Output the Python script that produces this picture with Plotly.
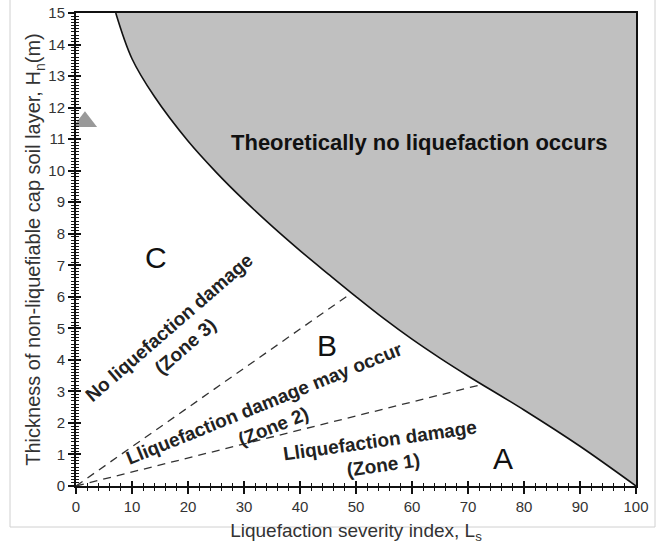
import plotly.graph_objects as go

# ---- data ----
curve_L = [7.1, 10, 14, 20, 25, 30, 35, 40, 45, 50, 55, 60, 65, 70, 80, 90, 100]
curve_H = [15, 13.55, 12.35, 10.94, 9.955, 9.065, 8.24, 7.465, 6.73, 6.005, 5.305, 4.655, 4.055, 3.49, 2.41, 1.26, 0]
top_L = [7.1, 100]
top_H = [15, 15]
zone3_L = [0, 49.2]
zone3_H = [0, 6.12]
zone2_L = [0, 72.5]
zone2_H = [0, 3.22]
marker_L = [1.6]
marker_H = [11.55]

FONT = "Liberation Sans, Arial, sans-serif"

fig = go.Figure()
fig.add_trace(go.Scatter(x=top_L, y=top_H, mode="lines", line=dict(width=0, color="rgba(0,0,0,0)"),
                         showlegend=False, hoverinfo="skip"))
fig.add_trace(go.Scatter(x=curve_L, y=curve_H, mode="lines", line=dict(color="#111111", width=1.6, shape="spline"),
                         fill="tonexty", fillcolor="#c0c0c0", showlegend=False))
for xs, ys in [(zone3_L, zone3_H), (zone2_L, zone2_H)]:
    fig.add_trace(go.Scatter(x=xs, y=ys, mode="lines", line=dict(color="#333333", width=1.3, dash="8px,6px"),
                             showlegend=False))
fig.add_trace(go.Scatter(x=marker_L, y=marker_H, mode="markers",
                         marker=dict(symbol="triangle-up", size=21, color="#999999"),
                         showlegend=False, cliponaxis=False))

ann = [
    dict(x=61.3, y=10.9, text="<b>Theoretically no liquefaction occurs</b>", size=22, angle=0, color="#111111"),
    dict(x=14.3, y=7.24, text="C", size=30, angle=0, color="#111111"),
    dict(x=44.9, y=4.44, text="B", size=30, angle=0, color="#111111"),
    dict(x=76.3, y=0.88, text="A", size=30, angle=0, color="#111111"),
    dict(x=18.1, y=4.73, text="<b>No liquefaction damage<br>(Zone 3)</b>", size=19, angle=-41, color="#222222"),
    dict(x=34.5, y=2.25, text="<b>Lliquefaction damage may occur<br>(Zone 2)</b>", size=19, angle=-22, color="#222222"),
    dict(x=54.5, y=1.05, text="<b>Lliquefaction damage<br>(Zone 1)</b>", size=19, angle=-8, color="#222222"),
]
for a in ann:
    fig.add_annotation(x=a["x"], y=a["y"], xref="x", yref="y", text=a["text"], showarrow=False,
                       textangle=a["angle"], xanchor="center", yanchor="middle",
                       font=dict(family=FONT, size=a["size"], color=a["color"]))

# outer light frame (pixel positions converted to paper coords)
L_M, T_M, PW, PH = 76, 13, 560, 473
def px(xp): return (xp - L_M) / PW
def py(yp): return (T_M + PH - yp) / PH
fig.add_shape(type="rect", xref="paper", yref="paper", x0=px(10), x1=px(655), y0=py(527), y1=py(-5),
              line=dict(color="#d0d0d0", width=1), fillcolor="rgba(0,0,0,0)", layer="below")

axis_common = dict(showgrid=False, zeroline=False)
fig.update_layout(
    width=661, height=544,
    margin=dict(l=L_M, r=661 - L_M - PW, t=T_M, b=544 - T_M - PH, autoexpand=False),
    paper_bgcolor="white", plot_bgcolor="rgba(0,0,0,0)",
    font=dict(family=FONT, size=15, color="#333333"),
    xaxis=dict(domain=[0, 1], range=[0, 100], tickmode="linear", tick0=0, dtick=10, ticks="outside", ticklen=6, tickwidth=1.5, tickcolor="#111",
               showline=True, linecolor="#111", linewidth=2, mirror=True,
               minor=dict(dtick=2, ticks="outside", ticklen=3, tickwidth=1.2, tickcolor="#111"),
               title=dict(text="Liquefaction severity index, L<sub>s</sub>", font=dict(size=19, color="#333"), standoff=14),
               tickfont=dict(size=15, color="#333"), automargin=False, **axis_common),
    yaxis=dict(domain=[0, 1], range=[0, 15], tickmode="linear", tick0=0, dtick=1, ticks="outside", ticklen=6, tickwidth=1.5, tickcolor="#111",
               showline=True, linecolor="#111", linewidth=2, mirror=True,
               minor=dict(dtick=0.1, ticks="outside", ticklen=3, tickwidth=1.2, tickcolor="#111"),
               title=dict(text="Thickness of non-liquefiable cap soil layer, H<sub>n</sub>(m)", font=dict(size=20, color="#333"), standoff=2),
               tickfont=dict(size=15, color="#333"), automargin=False, **axis_common),
    # second subplot on the same spot: inner halves of the crossing ticks
    xaxis2=dict(domain=[0, 1], anchor="y2", range=[0, 100], tickmode="linear", tick0=0, dtick=10, ticks="inside",
                ticklen=5, tickwidth=1.5, tickcolor="#111", showticklabels=False, showline=False,
                minor=dict(dtick=2, ticks="inside", ticklen=3, tickwidth=1.2, tickcolor="#111"), **axis_common),
    yaxis2=dict(domain=[0, 1], anchor="x2", range=[0, 15], tickmode="linear", tick0=0, dtick=1, ticks="inside",
                ticklen=5, tickwidth=1.5, tickcolor="#111", showticklabels=False, showline=False,
                minor=dict(dtick=0.1, ticks="inside", ticklen=3, tickwidth=1.2, tickcolor="#111"), **axis_common),
)
fig.add_trace(go.Scatter(x=[50], y=[7], xaxis="x2", yaxis="y2", mode="markers",
                         marker=dict(opacity=0), showlegend=False, hoverinfo="skip"))

fig.write_html("out.html")
